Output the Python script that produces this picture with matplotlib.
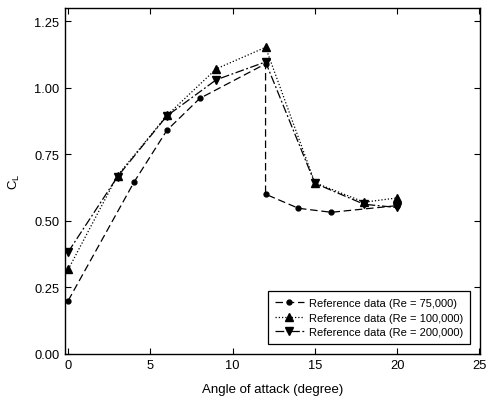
import matplotlib
matplotlib.use("Agg")
import matplotlib.pyplot as plt

plt.rcParams['font.family'] = ['Liberation Sans', 'DejaVu Sans']

aoa_75k = [0, 4, 6, 8, 12, 12, 14, 16, 20]
cl_75k = [0.20, 0.645, 0.84, 0.96, 1.09, 0.60, 0.547, 0.532, 0.557]

aoa_100k = [0, 3, 6, 9, 12, 15, 18, 20]
cl_100k = [0.317, 0.67, 0.896, 1.071, 1.152, 0.643, 0.57, 0.586]

aoa_200k = [0, 3, 6, 9, 12, 15, 18, 20]
cl_200k = [0.383, 0.666, 0.894, 1.03, 1.097, 0.641, 0.562, 0.55]

labels = ["Reference data (Re = 75,000)", "Reference data (Re = 100,000)",
          "Reference data (Re = 200,000)"]

fig = plt.figure(figsize=(4.88, 4.06), dpi=100)
ax = fig.add_axes([0.133, 0.126, 0.851, 0.852])

ax.plot(aoa_75k, cl_75k, color='black', linewidth=0.9, dashes=(6, 3),
        marker='o', markersize=3.5, label=labels[0])
ax.plot(aoa_100k, cl_100k, color='black', linewidth=0.9, linestyle=(0, (1, 1.6)),
        marker='^', markersize=5.2, label=labels[1])
ax.plot(aoa_200k, cl_200k, color='black', linewidth=0.9, linestyle=(0, (7, 2, 1.5, 2)),
        marker='v', markersize=5.2, label=labels[2])

ax.set_xlim(-0.2, 25.05)
ax.set_ylim(0, 1.30)
ax.set_xticks([0, 5, 10, 15, 20, 25])
ax.set_yticks([0, 0.25, 0.5, 0.75, 1.0, 1.25])
ax.set_yticklabels(["0.00", "0.25", "0.50", "0.75", "1.00", "1.25"])
ax.tick_params(direction='in', top=True, right=True, length=4, width=0.8,
               labelsize=9.3, pad=4)
for s in ax.spines.values():
    s.set_linewidth(1.0)

ax.set_xlabel("Angle of attack (degree)", fontsize=9.5, labelpad=8)
ax.set_ylabel(r"C$_\mathregular{L}$", fontsize=9.5, labelpad=9)

leg = ax.legend(loc='lower right', fontsize=8, frameon=True, fancybox=False,
                edgecolor='black', framealpha=1, handlelength=2.6,
                handletextpad=0.5, borderaxespad=0.9, labelspacing=0.42,
                borderpad=0.6)
leg.get_frame().set_linewidth(0.9)

fig.savefig("out.png", dpi=100)
